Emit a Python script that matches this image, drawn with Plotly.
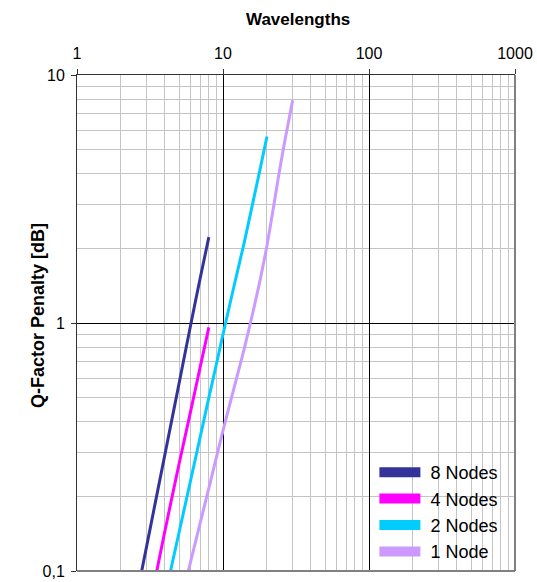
import plotly.graph_objects as go

# Q-factor penalty [dB] versus number of wavelengths, per node count
nodes8_x = [2, 3, 4, 5, 6, 7, 8]
nodes8_y = [0.038, 0.126, 0.295, 0.57, 0.98, 1.53, 2.22]

nodes4_x = [3, 4, 5, 6, 7, 8]
nodes4_y = [0.063, 0.145, 0.27, 0.44, 0.67, 0.96]

nodes2_x = [4, 5, 6, 7, 8, 9, 10, 12, 14, 16, 18, 20]
nodes2_y = [0.079, 0.143, 0.232, 0.35, 0.50, 0.68, 0.90, 1.44, 2.12, 3.05, 4.2, 5.65]

nodes1_x = [5, 6, 8, 10, 12, 14, 16, 18, 20, 22, 24, 26, 28, 30]
nodes1_y = [0.070, 0.109, 0.216, 0.368, 0.558, 0.79, 1.10, 1.50, 2.05, 2.85, 3.9, 5.1, 6.4, 7.9]

series = [
    ("8 Nodes", nodes8_x, nodes8_y, "#333399"),
    ("4 Nodes", nodes4_x, nodes4_y, "#ff00ff"),
    ("2 Nodes", nodes2_x, nodes2_y, "#00ccff"),
    ("1 Node", nodes1_x, nodes1_y, "#cc99ff"),
]

x_ticks = [1, 10, 100, 1000]
y_ticks = [0.1, 1, 10]
y_ticktext = ["0,1", "1", "10"]

fig = go.Figure()
for name, xs, ys, color in series:
    fig.add_trace(go.Scatter(x=xs, y=ys, mode="lines", name=name,
                             line=dict(color=color, width=3,
                                       shape="spline", smoothing=0.6),
                             showlegend=False))
# legend swatches drawn as thick bars
for name, xs, ys, color in series:
    fig.add_trace(go.Scatter(x=[None], y=[None], mode="lines",
                             name="\u00a0" + name,
                             line=dict(color=color, width=14),
                             showlegend=True))

font_family = "Arial, Liberation Sans, sans-serif"

axis_common = dict(
    type="log", automargin=False,
    showgrid=True, gridcolor="black", gridwidth=1,
    minor=dict(dtick="D1", showgrid=True, gridcolor="#c4c4c4", gridwidth=1),
    showline=True, linecolor="#333333", linewidth=1,
    ticks="outside", ticklen=5, tickcolor="#333333",
    zeroline=False, tickfont=dict(size=16),
)

fig.update_layout(
    width=537, height=582,
    margin=dict(l=77, r=22, t=75, b=11),
    paper_bgcolor="white", plot_bgcolor="white",
    separators=",.",
    font=dict(family=font_family, size=16, color="black"),
    showlegend=True,
    legend=dict(x=0.679, y=0.002, xanchor="left", yanchor="bottom",
                bgcolor="rgba(0,0,0,0)", itemwidth=41,
                font=dict(size=18, family=font_family)),
    xaxis=dict(range=[0, 3], side="top",
               tickvals=x_ticks, ticktext=[str(v) for v in x_ticks],
               ticklabelstandoff=4, **axis_common),
    yaxis=dict(range=[-1, 1],
               tickvals=y_ticks, ticktext=y_ticktext,
               ticklabelstandoff=3, **axis_common),
    annotations=[
        dict(text="<b>Wavelengths</b>", xref="paper", yref="paper",
             x=0.5, y=1, xanchor="center", yanchor="middle",
             xshift=2, yshift=56, showarrow=False,
             font=dict(size=17, family=font_family)),
        dict(text="<b>Q-Factor Penalty [dB]</b>", xref="paper", yref="paper",
             x=0, y=0.5, xanchor="center", yanchor="middle", textangle=-90,
             xshift=-39, yshift=7, showarrow=False,
             font=dict(size=18, family=font_family)),
    ],
    shapes=[
        dict(type="line", xref="paper", yref="paper", x0=1, x1=1, y0=0, y1=1,
             line=dict(color="#808080", width=2)),
        dict(type="line", xref="paper", yref="paper", x0=0, x1=1, y0=0, y1=0,
             line=dict(color="#808080", width=2)),
    ],
)

fig.write_html("out.html")
